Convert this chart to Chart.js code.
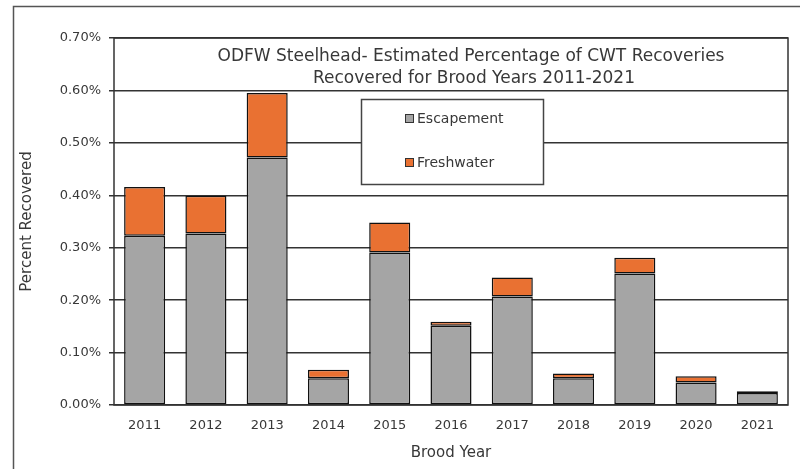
<!DOCTYPE html>
<html>
<head>
<meta charset="utf-8">
<script src="https://cdn.jsdelivr.net/npm/chart.js@4.4.1/dist/chart.umd.min.js"></script>
<style>
  html, body { margin: 0; padding: 0; background: #fff; }
  canvas { display: block; }
</style>
</head>
<body>
<canvas id="chart" width="807" height="469"></canvas>
<script>
// brood years and recovery percentages (values in %)
const broodYears = ['2011', '2012', '2013', '2014', '2015', '2016', '2017', '2018', '2019', '2020', '2021'];
const escapement = [0.323, 0.327, 0.472, 0.051, 0.291, 0.151, 0.207, 0.051, 0.251, 0.043, 0.023];
const freshwater = [0.093, 0.072, 0.123, 0.016, 0.057, 0.008, 0.036, 0.009, 0.030, 0.012, 0.003];
const titleLines = ['ODFW Steelhead- Estimated Percentage of CWT Recoveries', 'Recovered for Brood Years 2011-2021'];

const FONT = '"DejaVu Sans", "Liberation Sans", sans-serif';
const TEXT = '#383838';
const LINE = '#333333';
const GRAY = '#a5a5a5';
const ORANGE = '#e97132';

const decorPlugin = {
  id: 'decor',
  beforeDraw(chart) {
    const ctx = chart.ctx;
    ctx.save();
    ctx.fillStyle = '#fff';
    ctx.fillRect(0, 0, chart.width, chart.height);
    // outer frame (left + top)
    ctx.strokeStyle = '#555';
    ctx.lineWidth = 1.5;
    ctx.beginPath();
    ctx.moveTo(13.5, chart.height);
    ctx.lineTo(13.5, 6.5);
    ctx.lineTo(800, 6.5);
    ctx.stroke();
    ctx.restore();
  },
  afterDraw(chart) {
    const ctx = chart.ctx;
    const a = chart.chartArea;
    ctx.save();
    // plot border
    ctx.strokeStyle = LINE;
    ctx.lineWidth = 1.5;
    ctx.strokeRect(a.left, a.top, a.right - a.left, a.bottom - a.top);

    // title inside plot area
    ctx.fillStyle = TEXT;
    ctx.font = '17px ' + FONT;
    ctx.textAlign = 'center';
    ctx.textBaseline = 'middle';
    ctx.fillText(titleLines[0], 471, 57);
    ctx.fillText(titleLines[1], 474, 79);

    // legend box
    ctx.fillStyle = '#fff';
    ctx.fillRect(361.5, 99.5, 182, 85);
    ctx.strokeStyle = '#444';
    ctx.lineWidth = 1.5;
    ctx.strokeRect(361.5, 99.5, 182, 85);
    const items = [
      { label: chart.data.datasets[0].label, color: GRAY, y: 119 },
      { label: chart.data.datasets[1].label, color: ORANGE, y: 163 },
    ];
    ctx.font = '14px ' + FONT;
    ctx.textAlign = 'left';
    items.forEach((it) => {
      ctx.fillStyle = it.color;
      ctx.fillRect(405.5, it.y - 4.5, 8, 8);
      ctx.strokeStyle = '#333';
      ctx.lineWidth = 1;
      ctx.strokeRect(405.5, it.y - 4.5, 8, 8);
      ctx.fillStyle = TEXT;
      ctx.fillText(it.label, 417, it.y);
    });
    ctx.restore();
  },
};

new Chart(document.getElementById('chart'), {
  type: 'bar',
  data: {
    labels: broodYears,
    datasets: [
      {
        label: 'Escapement',
        data: escapement,
        backgroundColor: GRAY,
        borderColor: '#111',
        borderWidth: 1.5,
        borderSkipped: false,
      },
      {
        label: 'Freshwater',
        data: freshwater,
        backgroundColor: ORANGE,
        borderColor: '#111',
        borderWidth: 1.5,
        borderSkipped: false,
      },
    ],
  },
  options: {
    responsive: false,
    animation: false,
    devicePixelRatio: 1,
    layout: { padding: { left: 14, top: 38, right: 19, bottom: 0 } },
    categoryPercentage: 1,
    barPercentage: 0.67,
    plugins: {
      legend: { display: false },
      title: { display: false },
      tooltip: { enabled: false },
    },
    scales: {
      x: {
        stacked: true,
        grid: { display: false },
        border: { display: false },
        ticks: { color: TEXT, font: { family: FONT, size: 13 }, padding: 5, maxRotation: 0 },
        title: { display: true, text: 'Brood Year', color: TEXT, font: { family: FONT, size: 15 }, padding: { top: 0, bottom: 7 } },
        afterFit(scale) { scale.height = 64; },
      },
      y: {
        stacked: true,
        min: 0,
        max: 0.7,
        grid: { color: LINE, lineWidth: 1.5, tickLength: 5 },
        border: { display: false },
        ticks: {
          stepSize: 0.1,
          color: TEXT,
          font: { family: FONT, size: 13 },
          padding: 8,
          callback: (v) => v.toFixed(2) + '%',
        },
        title: { display: true, text: 'Percent Recovered', color: TEXT, font: { family: FONT, size: 15 }, padding: { top: 4, bottom: 0 } },
        afterFit(scale) { scale.width = 100; },
      },
    },
  },
  plugins: [decorPlugin],
});
</script>
</body>
</html>
